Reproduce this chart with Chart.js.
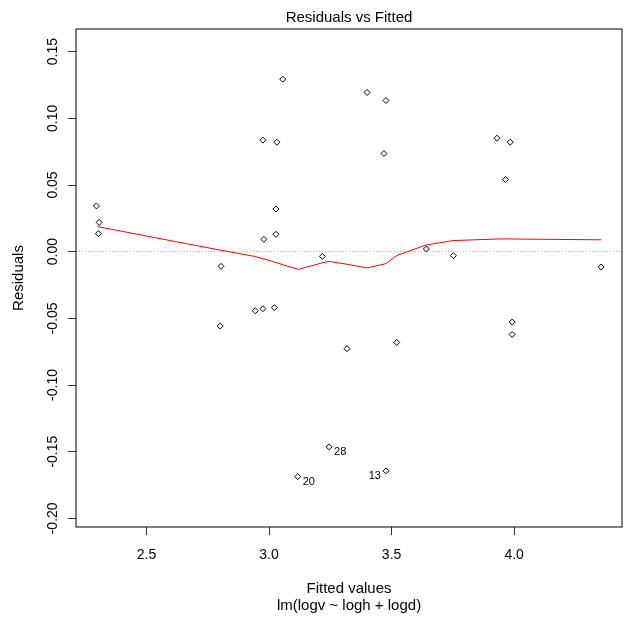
<!DOCTYPE html>
<html lang="en">
<head>
  <meta charset="UTF-8">
  <title>Residuals vs Fitted</title>
  <script src="https://cdn.jsdelivr.net/npm/chart.js"></script>
  <style>
    html, body { margin: 0; padding: 0; background: #fff; overflow: hidden; }
  </style>
</head>
<body>
<canvas id="grafico" width="627" height="618"></canvas>

<script>
  // valores ajustados y residuos
  const fitted = [2.296, 2.307, 2.304, 2.804, 2.801, 2.944, 2.975, 2.975, 2.979, 3.022,
                  3.028, 3.028, 3.032, 3.056, 3.117, 3.218, 3.245, 3.318, 3.400, 3.469,
                  3.477, 3.477, 3.521, 3.642, 3.752, 3.930, 3.965, 3.984, 3.992, 3.992, 4.355];
  const resid = [0.0343, 0.0220, 0.0135, -0.0110, -0.0558, -0.0443, -0.0428, 0.0836, 0.0093, -0.0420,
                 0.0320, 0.0130, 0.0821, 0.1294, -0.1687, -0.0035, -0.1464, -0.0728, 0.1194, 0.0736,
                 0.1134, -0.1644, -0.0681, 0.0020, -0.0030, 0.0851, 0.0541, 0.0821, -0.0528, -0.0621, -0.0115];

  // curva suavizada (lowess)
  const smoothX = [2.30, 2.80, 2.94, 2.98, 3.03, 3.06, 3.12, 3.22, 3.245, 3.32,
                   3.40, 3.47, 3.48, 3.52, 3.64, 3.75, 3.93, 3.97, 3.99, 4.355];
  const smoothY = [0.0188, 0.0012, -0.0035, -0.0055, -0.0082, -0.0100, -0.0133, -0.0082, -0.0073, -0.0095,
                   -0.0122, -0.0093, -0.0086, -0.0030, 0.0050, 0.0083, 0.0095, 0.0096, 0.0095, 0.0089];

  // observaciones marcadas
  const idIndex = [14, 16, 21];
  const idLabels = ["20", "28", "13"];
  const idSide = [1, 1, -1];

  const xTicks = [2.5, 3.0, 3.5, 4.0];
  const yTicks = [-0.20, -0.15, -0.10, -0.05, 0.00, 0.05, 0.10, 0.15];

  const fuente = '"Liberation Sans", Arial, sans-serif';

  const cajaPlugin = {
    id: "caja",
    afterDraw(chart) {
      const a = chart.chartArea;
      const ctx = chart.ctx;
      ctx.save();
      ctx.strokeStyle = "#000";
      ctx.lineWidth = 1;
      ctx.strokeRect(a.left, a.top, a.right - a.left, a.bottom - a.top);
      // etiquetas de observaciones
      const sx = chart.scales.x, sy = chart.scales.y;
      ctx.fillStyle = "#000";
      ctx.font = "11px " + fuente;
      ctx.textBaseline = "middle";
      idIndex.forEach((k, i) => {
        const px = sx.getPixelForValue(fitted[k]);
        const py = sy.getPixelForValue(resid[k]);
        ctx.textAlign = idSide[i] > 0 ? "left" : "right";
        ctx.fillText(idLabels[i], px + idSide[i] * 5, py + 5);
      });
      ctx.restore();
    }
  };

  const puntos = fitted.map((f, i) => ({ x: f, y: resid[i] }));
  const suave = smoothX.map((f, i) => ({ x: f, y: smoothY[i] }));

  new Chart(document.getElementById("grafico"), {
    type: "scatter",
    data: {
      datasets: [
        {
          label: "Residuos",
          data: puntos,
          pointStyle: "rectRot",
          pointRadius: 3,
          pointBorderWidth: 1,
          borderColor: "#000",
          backgroundColor: "rgba(0,0,0,0)"
        },
        {
          label: "lowess",
          type: "line",
          data: suave,
          showLine: true,
          borderColor: "#ff0000",
          borderWidth: 1,
          pointRadius: 0,
          tension: 0
        }
      ]
    },
    options: {
      responsive: false,
      animation: false,
      devicePixelRatio: 1,
      layout: { padding: { left: 0, right: 1, top: 0, bottom: 0 } },
      plugins: {
        legend: { display: false },
        tooltip: { enabled: false },
        title: {
          display: true,
          text: "Residuals vs Fitted",
          fullSize: false,
          color: "#000",
          font: { family: fuente, size: 15, weight: "normal" },
          padding: { top: 9, bottom: 2 }
        }
      },
      scales: {
        x: {
          type: "linear",
          min: 2.2126,
          max: 4.44,
          afterFit: s => { s.height = 91; },
          afterBuildTicks: s => { s.ticks = xTicks.map(v => ({ value: v })); },
          ticks: {
            color: "#000",
            font: { family: fuente, size: 14 },
            padding: 12,
            callback: v => v.toFixed(1)
          },
          grid: { drawOnChartArea: false, tickLength: 8, tickColor: "#333" },
          border: { display: false },
          title: {
            display: true,
            text: ["Fitted values", "lm(logv ~ logh + logd)"],
            color: "#000",
            font: { family: fuente, size: 15, lineHeight: 1.13 },
            padding: { top: 0, bottom: 3.5 }
          }
        },
        y: {
          type: "linear",
          min: -0.2065,
          max: 0.167,
          afterFit: s => { s.width = 76; },
          afterBuildTicks: s => { s.ticks = yTicks.map(v => ({ value: v })); },
          ticks: {
            color: "#000",
            font: { family: fuente, size: 14 },
            minRotation: 90,
            maxRotation: 90,
            crossAlign: "center",
            padding: -1,
            callback: v => Math.abs(v) < 1e-9 ? "0.00" : v.toFixed(2)
          },
          grid: {
            color: c => (c.tick && Math.abs(c.tick.value) < 1e-9) ? "#b4b4b4" : "rgba(0,0,0,0)",
            tickColor: "#333",
            tickLength: 8,
            tickBorderDash: []
          },
          border: { display: false, dash: [1, 2] },
          title: {
            display: true,
            text: "Residuals",
            color: "#000",
            font: { family: fuente, size: 15 },
            padding: { top: 10, bottom: 0 }
          }
        }
      }
    },
    plugins: [cajaPlugin]
  });
</script>
</body>
</html>
